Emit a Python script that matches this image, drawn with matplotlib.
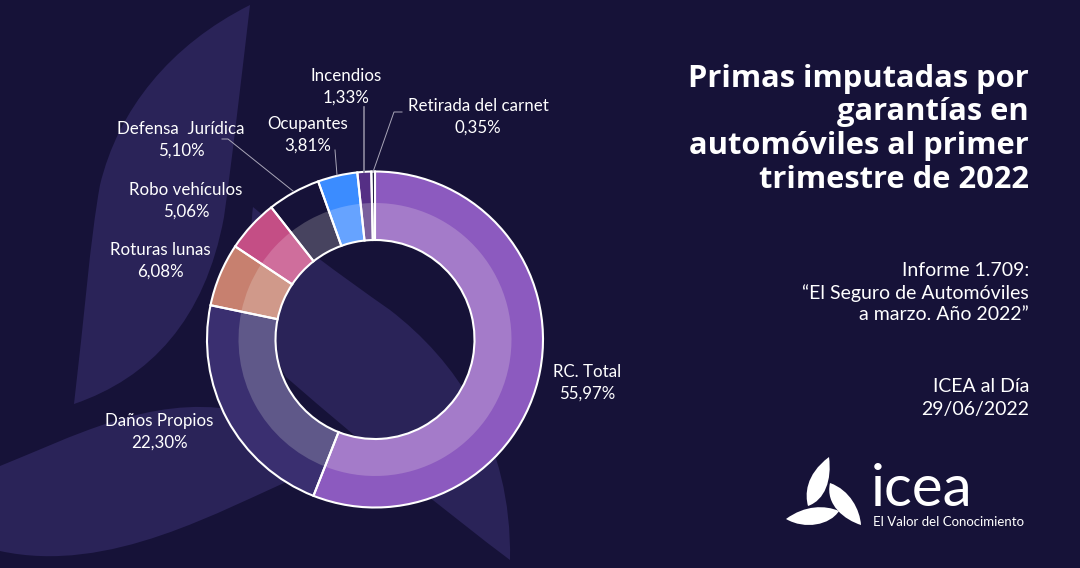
import matplotlib
matplotlib.use('Agg')
import matplotlib.pyplot as plt
from matplotlib.patches import PathPatch
from matplotlib.path import Path

# datos
garantias = ['RC. Total', 'Daños Propios', 'Roturas lunas', 'Robo vehículos',
             'Defensa  Jurídica', 'Ocupantes', 'Incendios', 'Retirada del carnet']
primas = [55.97, 22.30, 6.08, 5.06, 5.10, 3.81, 1.33, 0.35]
titulo = ['Primas imputadas por', 'garantías en', 'automóviles al primer', 'trimestre de 2022']
informe = ['Informe 1.709:', '“El Seguro de Automóviles', 'a marzo. Año 2022”']
fuente = ['ICEA al Día', '29/06/2022']

# colores
FONDO = '#161238'
HOJA = '#2a2358'
colores = ['#8c5abf', '#3a2f70', '#c7806f', '#c44e85', FONDO, '#3b8cff', '#552f85', FONDO]
colores_claros = ['#a47bc9', '#5f5889', '#d0998a', '#cf6e9c', '#47435f', '#66a3ff', '#7a5f9d', '#8a86a0']

# posicion de las etiquetas (centro de la primera linea, en pixeles)
pos_etiquetas = [(587, 372), (159, 421), (160, 250), (186, 190),
                 (181, 129), (308, 124), (346, 76), (478, 106)]

W, H = 1080, 568


def y_(y):
    return H - y


def curva(puntos, color, z=1):
    # primer punto + tramos bezier de 3 puntos
    verts = [(x, y_(y)) for x, y in puntos]
    codes = [Path.MOVETO] + [Path.CURVE4] * (len(verts) - 1)
    verts.append(verts[0])
    codes.append(Path.CLOSEPOLY)
    return PathPatch(Path(verts, codes), facecolor=color, edgecolor='none', zorder=z)


fig = plt.figure(figsize=(W / 100, H / 100), dpi=100, facecolor=FONDO)
ax = fig.add_axes([0, 0, 1, 1])
ax.set_facecolor(FONDO)

# hojas de fondo
ax.add_patch(curva([(250, 5), (170, 45), (118, 110), (100, 185),
                    (90, 240), (84, 320), (74, 404),
                    (150, 378), (205, 320), (224, 217),
                    (232, 160), (240, 90), (250, 5)], HOJA))
ax.add_patch(curva([(253, 207), (290, 238), (340, 275), (390, 310),
                    (455, 360), (512, 440), (510, 560),
                    (450, 515), (370, 450), (286, 377),
                    (265, 340), (245, 270), (253, 207)], HOJA))
ax.add_patch(curva([(0, 466), (70, 438), (150, 395), (235, 410),
                    (300, 440), (320, 455), (300, 476),
                    (220, 510), (110, 575), (0, 551),
                    (0, 530), (0, 490), (0, 466)], HOJA))

# donut
centro = (375, y_(339.5))
ax.pie(primas, colors=colores, startangle=90, counterclock=False, center=centro,
       radius=168, frame=True, wedgeprops=dict(width=68.5, edgecolor='none'))
ax.pie(primas, colors=colores_claros, startangle=90, counterclock=False, center=centro,
       radius=136.5, frame=True, wedgeprops=dict(width=37, edgecolor='none'))
ax.pie(primas, colors=['none'] * len(primas), startangle=90, counterclock=False, center=centro,
       radius=168, frame=True, wedgeprops=dict(width=68.5, edgecolor='white', linewidth=1.5))

ax.set_xlim(0, W)
ax.set_ylim(0, H)
ax.set_aspect('equal')
ax.axis('off')

# lineas guia
ax.plot([222, 228, 293], [y_(139), y_(139), y_(191)], color='#a9a6b8', lw=0.7)
ax.plot([335, 337], [y_(150), y_(175)], color='#a9a6b8', lw=0.7)
ax.plot([364, 364], [y_(107), y_(172)], color='#8d8a9f', lw=1.2)
ax.plot([402, 394, 373], [y_(112), y_(112), y_(172)], color='#a9a6b8', lw=0.7)

# etiquetas
for g, p, (x, y) in zip(garantias, primas, pos_etiquetas):
    txt = f'{p:.2f}%'.replace('.', ',')
    ax.text(x, y_(y), g, color='white', fontsize=12.2, family='Lato', ha='center', va='center')
    ax.text(x, y_(y + 21.5), txt, color='white', fontsize=12.2, family='Lato', ha='center', va='center')

# textos de la derecha
for t, y in zip(titulo, [79, 112, 146, 180]):
    ax.text(1029, y_(y), t, color='white', fontsize=22.2, family='Open Sans', weight='bold', ha='right', va='center')
for t, y in zip(informe, [271, 293, 315]):
    ax.text(1029, y_(y), t, color='white', fontsize=14, family='Lato', ha='right', va='center')
for t, y in zip(fuente, [387, 409]):
    ax.text(1029, y_(y), t, color='white', fontsize=14, family='Lato', ha='right', va='center')

# logo
ax.add_patch(curva([(829, 457), (805, 475), (805, 495), (808, 506),
                    (825, 500), (832, 480), (829, 457)], 'white', 3))
ax.add_patch(curva([(830, 483), (850, 490), (860, 510), (861, 525),
                    (845, 520), (825, 505), (830, 483)], 'white', 3))
ax.add_patch(curva([(786, 519), (805, 505), (825, 505), (839, 511),
                    (830, 525), (805, 530), (786, 519)], 'white', 3))
ax.text(871, y_(489), 'icea', color='white', fontsize=42, family='Lato', ha='left', va='center')
ax.text(873, y_(522), 'El Valor del Conocimiento', color='white', fontsize=9.5, family='Lato', ha='left', va='center')

fig.savefig('out.png', dpi=100, facecolor=FONDO)
